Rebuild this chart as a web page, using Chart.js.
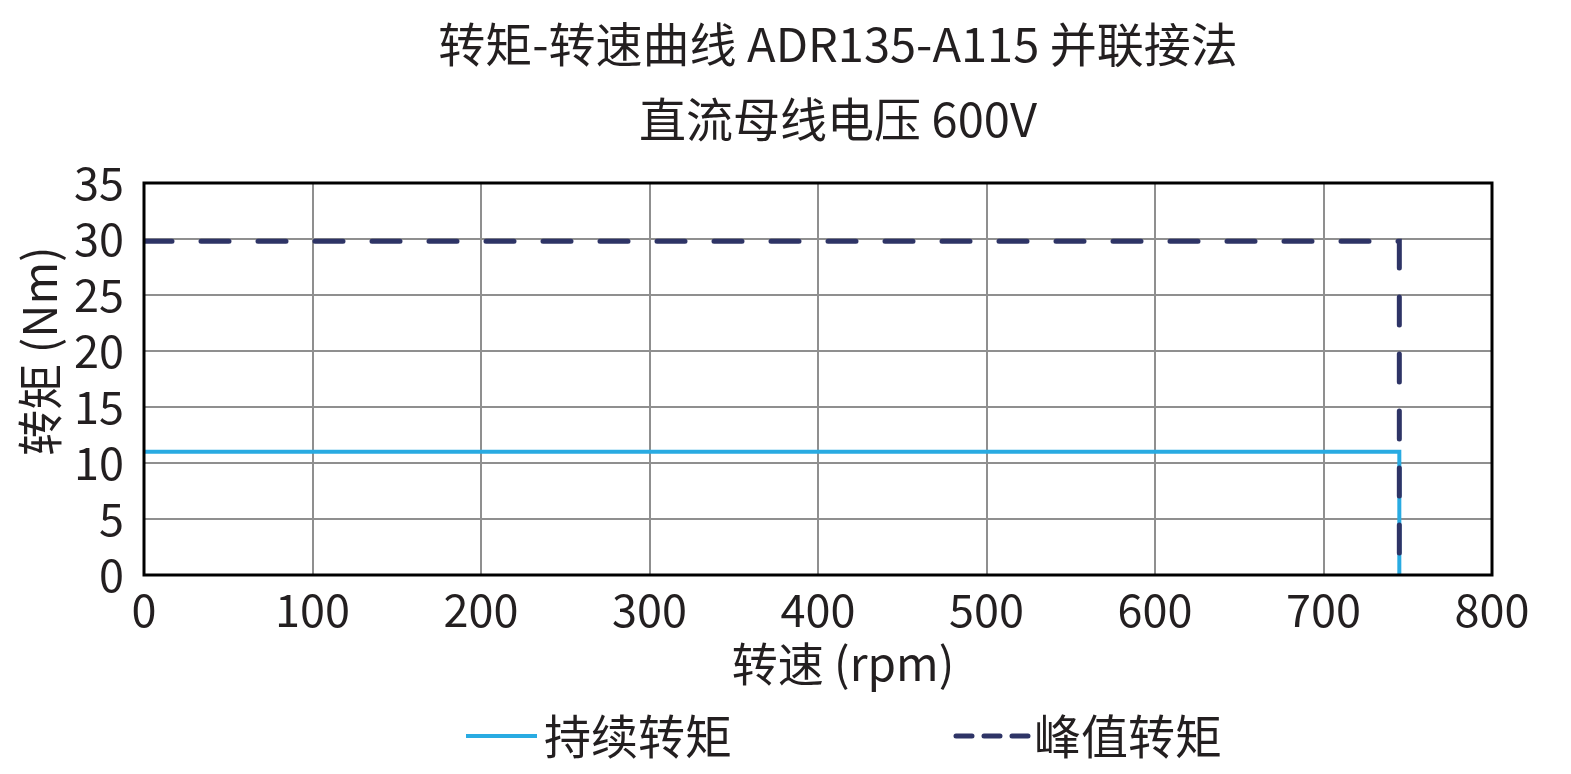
<!DOCTYPE html>
<html>
<head>
<meta charset="utf-8">
<script src="https://cdn.jsdelivr.net/npm/chart.js@4/dist/chart.umd.min.js"></script>
<style>
html,body{margin:0;padding:0;background:#fff;}
#wrap{width:1571px;height:774px;position:relative;}
</style>
</head>
<body>
<div id="wrap"><canvas id="c" width="1571" height="774"></canvas></div>
<script>
const titleLines = ['转矩-转速曲线 ADR135-A115 并联接法', '直流母线电压 600V'];
const xTitle = '转速 (rpm)';
const yTitle = '转矩 (Nm)';
const seriesNames = ['持续转矩', '峰值转矩'];
const speed = [0, 745, 745];
const continuousTorque = [11, 11, 0];
const peakTorque = [29.8, 29.8, 0];

const FONT = '"Noto Sans CJK SC", "Noto Sans", sans-serif';
const TXT = '#231F20';
const CYAN = '#29ABE2';
const NAVY = '#2E3466';

const toPts = (xs, ys) => xs.map((x, i) => ({x: x, y: ys[i]}));

const decor = {
  id: 'decor',
  afterDatasetsDraw(chart) {
    const ctx = chart.ctx, a = chart.chartArea;
    ctx.save();
    ctx.strokeStyle = '#000';
    ctx.lineWidth = 3;
    ctx.strokeRect(a.left, a.top, a.right - a.left, a.bottom - a.top);
    ctx.restore();
  },
  afterDraw(chart) {
    const ctx = chart.ctx;
    ctx.save();
    ctx.fillStyle = TXT;
    ctx.textAlign = 'center';
    ctx.textBaseline = 'middle';
    ctx.font = '47px ' + FONT;
    ctx.fillText(titleLines[0], 838, 44);
    ctx.fillText(titleLines[1], 838, 119);
    // axis titles
    ctx.font = '46px ' + FONT;
    ctx.fillText(xTitle, 843, 664);
    ctx.save();
    ctx.translate(40, 351);
    ctx.rotate(-Math.PI / 2);
    ctx.fillText(yTitle, 0, 0);
    ctx.restore();
    // legend
    ctx.textAlign = 'left';
    ctx.font = '47px ' + FONT;
    const ly = 736;
    ctx.lineCap = 'butt';
    ctx.strokeStyle = CYAN; ctx.lineWidth = 4;
    ctx.beginPath(); ctx.moveTo(466, ly); ctx.lineTo(537, ly); ctx.stroke();
    ctx.fillText(seriesNames[0], 544, ly);
    ctx.strokeStyle = NAVY; ctx.lineWidth = 5; ctx.lineCap = 'round';
    ctx.setLineDash([16, 12]);
    ctx.beginPath(); ctx.moveTo(956, ly); ctx.lineTo(1028, ly); ctx.stroke();
    ctx.setLineDash([]);
    ctx.fillText(seriesNames[1], 1034, ly);
    ctx.restore();
  }
};

new Chart(document.getElementById('c'), {
  type: 'line',
  data: {
    datasets: [
      {label: seriesNames[0], data: toPts(speed, continuousTorque), borderColor: CYAN, borderWidth: 4, pointRadius: 0, fill: false, tension: 0, order: 2, borderCapStyle: 'butt'},
      {label: seriesNames[1], data: toPts(speed, peakTorque), borderColor: NAVY, borderWidth: 5, borderDash: [28, 29], borderCapStyle: 'round', pointRadius: 0, fill: false, tension: 0, order: 1}
    ]
  },
  options: {
    responsive: false,
    animation: false,
    layout: {padding: {left: 0, right: 79, top: 183, bottom: 81}},
    plugins: {legend: {display: false}, tooltip: {enabled: false}, title: {display: false}},
    scales: {
      x: {
        type: 'linear', min: 0, max: 800,
        ticks: {stepSize: 100, autoSkip: false, color: TXT, font: {family: FONT, size: 45}, padding: 8, maxRotation: 0},
        grid: {color: '#8f8f8f', lineWidth: 2, drawTicks: false},
        border: {display: false},
        title: {display: false, text: xTitle},
        afterFit(s) { s.height = 118; }
      },
      y: {
        min: 0, max: 35,
        ticks: {stepSize: 5, autoSkip: false, color: TXT, font: {family: FONT, size: 45}, padding: 20},
        grid: {color: '#8f8f8f', lineWidth: 2, drawTicks: false},
        border: {display: false},
        title: {display: false, text: yTitle},
        afterFit(s) { s.width = 144; }
      }
    }
  },
  plugins: [decor]
});
</script>
</body>
</html>
